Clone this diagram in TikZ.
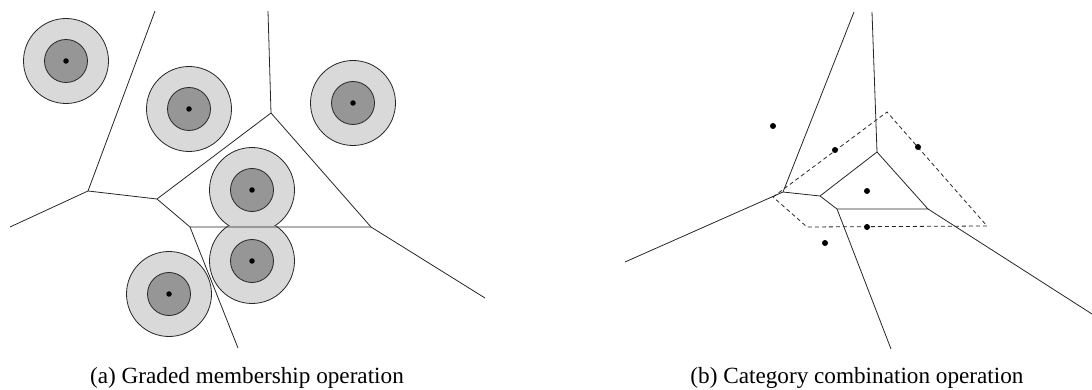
\documentclass[tikz,border=0pt]{standalone}
\usepackage{fontspec}
\setmainfont{Liberation Serif}
\usetikzlibrary{positioning}

\begin{document}
\begin{tikzpicture}[x=1pt, y=-1pt]
\tikzstyle{edge}=[draw=black!85, line width=0.8pt]
\tikzstyle{hull}=[draw=black!85, line width=0.8pt, dash pattern=on 4pt off 3pt]
\tikzstyle{outer}=[circle, draw=black!85, fill=black!15, line width=0.8pt, minimum size=85pt, inner sep=0pt]
\tikzstyle{inner}=[circle, draw=black!85, fill=black!41, line width=0.8pt, minimum size=43pt, inner sep=0pt]
\tikzstyle{site}=[circle, fill=black, minimum size=5.5pt, inner sep=0pt]
\tikzstyle{caption}=[font=\fontsize{23.2}{28}\selectfont, anchor=base, inner sep=0pt]
  \useasboundingbox (0,0) rectangle (1092,390);

  % (a) graded membership
  \node[outer] (o1) at (66,61) {};   \node[inner] (i1) at (o1) {}; \node[site] (p1) at (o1) {};
  \node[outer] (o2) at (189,109) {}; \node[inner] (i2) at (o2) {}; \node[site] (p2) at (o2) {};
  \node[outer] (o3) at (353,103) {}; \node[inner] (i3) at (o3) {}; \node[site] (p3) at (o3) {};
  \node[outer] (o6) at (169,294) {}; \node[inner] (i6) at (o6) {}; \node[site] (p6) at (o6) {};
  \begin{scope}
    \clip (200,140) rectangle (310,227);
    \node[outer] (o4) at (252,190) {}; \node[inner] (i4) at (o4) {}; \node[site] (p4) at (o4) {};
  \end{scope}
  \begin{scope}
    \clip (200,227) rectangle (310,320);
    \node[outer] (o5) at (252,261) {}; \node[inner] (i5) at (o5) {}; \node[site] (p5) at (o5) {};
  \end{scope}

  \coordinate (A) at (88,191);
  \coordinate (B) at (157,199);
  \coordinate (C) at (271,113);
  \coordinate (D) at (371,227);
  \coordinate (E) at (190,227);
  \coordinate (a1) at (155,11);
  \coordinate (a2) at (10,227);
  \coordinate (c1) at (268,11);
  \coordinate (d1) at (485,298);
  \coordinate (e1) at (238,348);
  \path[edge] (a1) -- (A) -- (a2);
  \path[edge] (A) -- (B) -- (C) -- (c1);
  \path[edge] (C) -- (D) -- (d1);
  \path[edge] (B) -- (E) -- (D);
  \path[edge] (E) -- (e1);

  % (b) category combination
  \coordinate (P) at (783,192);
  \coordinate (Q) at (820,196);
  \coordinate (R) at (837,209);
  \coordinate (S) at (928,209);
  \coordinate (T) at (877,152);
  \coordinate (p1) at (854,12);
  \coordinate (p2) at (625,262);
  \coordinate (r1) at (891,349);
  \coordinate (s1) at (1092,314);
  \coordinate (t1) at (872,12);
  \path[edge] (p1) -- (P) -- (p2);
  \path[edge] (P) -- (Q) -- (R) -- (S) -- (T) -- (Q);
  \path[edge] (R) -- (r1);
  \path[edge] (S) -- (s1);
  \path[edge] (T) -- (t1);

  \coordinate (h1) at (773,197);
  \coordinate (h2) at (887,112);
  \coordinate (h3) at (987,226);
  \coordinate (h4) at (807,227);
  \path[hull] (h1) -- (h2) -- (h3) -- (h4) -- cycle;

  \node[site, minimum size=6pt] (q1) at (773,126) {};
  \node[site, minimum size=6pt] (q2) at (835,150) {};
  \node[site, minimum size=6pt] (q3) at (918,147) {};
  \node[site, minimum size=6pt] (q4) at (867,191) {};
  \node[site, minimum size=6pt] (q5) at (867,227) {};
  \node[site, minimum size=6pt] (q6) at (825,243) {};

  \node[caption] (capa) at (247,383) {(a) Graded membership operation};
  \node[caption] (capb) at (857,383) {(b) Category combination operation};
\end{tikzpicture}
\end{document}
